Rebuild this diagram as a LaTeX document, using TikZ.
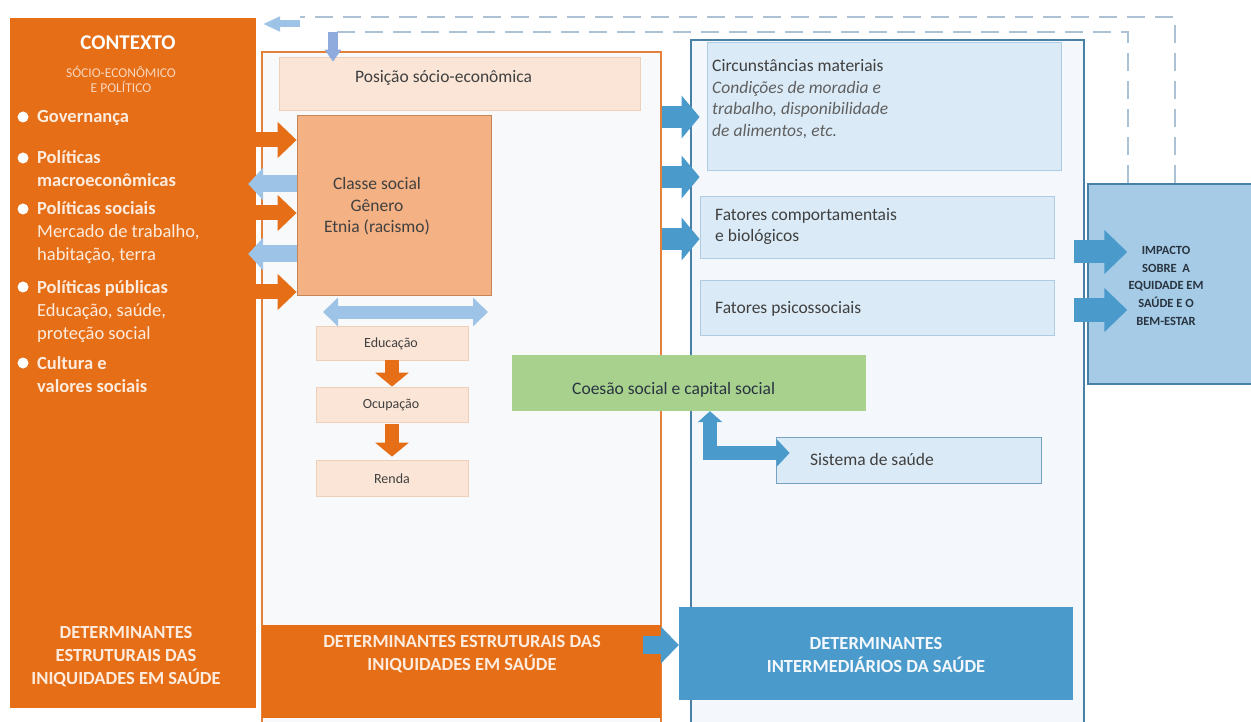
\documentclass[tikz,border=0pt]{standalone}
\usepackage{fontspec}
\setmainfont{Carlito}
\usepackage{xcolor}
\definecolor{orange-600}{RGB}{229,110,23}
\definecolor{orange-500}{RGB}{226,128,60}
\definecolor{peach-100}{RGB}{251,229,214}
\definecolor{peach-200}{RGB}{238,208,186}
\definecolor{peach-300}{RGB}{244,177,131}
\definecolor{brown-400}{RGB}{196,134,88}
\definecolor{cream-50}{RGB}{253,236,222}
\definecolor{cream-200}{RGB}{250,214,188}
\definecolor{gray-50}{RGB}{248,249,250}
\definecolor{gray-700}{RGB}{64,64,64}
\definecolor{gray-600}{RGB}{96,96,96}
\definecolor{blue-50}{RGB}{244,248,252}
\definecolor{blue-100}{RGB}{218,234,246}
\definecolor{blue-200}{RGB}{176,204,226}
\definecolor{blue-300}{RGB}{157,195,230}
\definecolor{blue-350}{RGB}{166,203,230}
\definecolor{blue-400}{RGB}{120,162,194}
\definecolor{blue-500}{RGB}{74,155,204}
\definecolor{blue-700}{RGB}{72,128,166}
\definecolor{blue-900}{RGB}{40,52,64}
\definecolor{indigo-300}{RGB}{143,170,220}
\definecolor{green-300}{RGB}{169,209,142}
\definecolor{dash-300}{RGB}{172,194,212}
\usepackage{tikz}
\usetikzlibrary{arrows.meta,calc}

\newcommand{\fsbody}{\fontsize{17.5}{21.5}\selectfont}
\newcommand{\fsctx}{\fontsize{18.5}{23}\selectfont}
\newcommand{\fshead}{\fontsize{21}{25}\selectfont}
\newcommand{\fstiny}{\fontsize{13.5}{15}\selectfont}
\newcommand{\fssmall}{\fontsize{14}{17}\selectfont}
\newcommand{\fsimpact}{\fontsize{12.5}{18}\selectfont}

\begin{document}
\begin{tikzpicture}[
    x=1pt, y=-1pt,
    every node/.style={inner sep=0pt},
    orgarrow/.style={draw=orange-600, line width=15pt, -{Triangle[length=19pt,width=35pt]}},
    dwnarrow/.style={draw=orange-600, line width=14pt, -{Triangle[length=14pt,width=33pt]}},
    ltarrow/.style={draw=blue-300, line width=17pt, -{Triangle[length=15pt,width=32pt]}},
    bluarrow/.style={draw=blue-500, line width=22pt, -{Triangle[length=18pt,width=42pt]}},
    fbline/.style={draw=dash-300, line width=2pt, dash pattern=on 18pt off 10pt}
]

% Canvas
\path[use as bounding box] (0,0) rectangle (1251,722);
\fill[white] (0,0) rectangle (1251,722);
\clip (0,0) rectangle (1251,722);

% Context column
\node[fill=orange-600, minimum width=246pt, minimum height=690pt] (ctx) at (133,363) {};

% Frames
\node[draw=orange-500, line width=2pt, fill=gray-50, minimum width=399pt, minimum height=688pt] (estr) at (461.5,396) {};
\node[draw=blue-700, line width=2pt, fill=blue-50, minimum width=393pt, minimum height=700pt] (intf) at (887.5,390) {};

% Structural boxes
\node[fill=peach-100, draw=peach-200, line width=0.8pt, minimum width=361pt, minimum height=53pt] (pos) at (459.5,83.5) {};
\node[fill=peach-300, draw=brown-400, line width=0.8pt, minimum width=194pt, minimum height=180pt] (classe) at (394,205) {};
\node[fill=peach-100, draw=peach-200, line width=0.8pt, minimum width=152pt, minimum height=34pt] (edu) at (392,343) {};
\node[fill=peach-100, draw=peach-200, line width=0.8pt, minimum width=152pt, minimum height=35pt] (ocup) at (392,404.5) {};
\node[fill=peach-100, draw=peach-200, line width=0.8pt, minimum width=152pt, minimum height=36pt] (renda) at (392,478) {};

% Intermediary boxes
\node[fill=blue-100, draw=blue-200, line width=0.8pt, minimum width=354pt, minimum height=128pt] (circ) at (884,106) {};
\node[fill=blue-100, draw=blue-200, line width=0.8pt, minimum width=354pt, minimum height=62pt] (comp) at (877,227) {};
\node[fill=blue-100, draw=blue-200, line width=0.8pt, minimum width=354pt, minimum height=55pt] (psic) at (877,307.5) {};
\node[fill=green-300, minimum width=354pt, minimum height=56pt] (coesao) at (689,383) {};
\node[fill=blue-100, draw=blue-400, line width=0.8pt, minimum width=265pt, minimum height=46pt] (sist) at (908.5,460) {};

% Impact and bottom labels
\node[fill=blue-350, draw=blue-700, line width=1.5pt, minimum width=172pt, minimum height=200pt] (impact) at (1174,284) {};
\node[fill=orange-600, minimum width=399pt, minimum height=93pt] (estrlab) at (461.5,671.5) {};
\node[fill=blue-500, minimum width=394pt, minimum height=93pt] (intlab) at (876,653.5) {};

% Feedback lines
\draw[fbline] (impact.north -| 1175,0) |- (300,17);
\draw[fbline] (impact.north -| 1128,0) |- (333,32);
\coordinate (fbtip) at (263,24);
\coordinate (fbdown) at (333,32);
\draw[draw=blue-300, line width=7pt, -{Triangle[length=17pt,width=14pt]}] (300,24) -- (fbtip);
\draw[draw=indigo-300, line width=10pt, -{Triangle[length=12pt,width=16pt]}] (fbdown) -- ($(pos.north -| fbdown)+(0,5)$);

% Context to social class
\draw[orgarrow] (ctx.east |- 0,140) -- (classe.west |- 0,140);
\draw[orgarrow] (ctx.east |- 0,213) -- (classe.west |- 0,213);
\draw[orgarrow] (ctx.east |- 0,292) -- (classe.west |- 0,292);
\draw[ltarrow] (classe.west |- 0,184) -- ($(ctx.east |- 0,184)+(-8,0)$);
\draw[ltarrow] (classe.west |- 0,254) -- ($(ctx.east |- 0,254)+(-8,0)$);

% Education, occupation, income
\coordinate (dblleft) at (323,312);
\coordinate (dblright) at (488,312);
\draw[draw=blue-300, line width=13pt, {Triangle[length=15pt,width=28pt]}-{Triangle[length=15pt,width=28pt]}] (dblleft) -- (dblright);
\draw[dwnarrow] (edu.south) -- (ocup.north);
\draw[dwnarrow] ($(ocup.south)+(0,2)$) -- ($(renda.north)+(0,-3)$);

% Structural to intermediary
\draw[bluarrow] (estr.east |- 0,117) -- (comp.west |- 0,117);
\draw[bluarrow] (estr.east |- 0,177) -- (comp.west |- 0,177);
\draw[bluarrow] (estr.east |- 0,239) -- (comp.west |- 0,239);
\draw[draw=blue-500, line width=14pt, {Triangle[length=11pt,width=24pt]}-{Triangle[length=13pt,width=27pt]}] (coesao.south -| 710,0) |- ($(sist.west |- 0,453)+(14,0)$);
\draw[draw=blue-500, line width=23pt, -{Triangle[length=23pt,width=43pt]}] ($(intf.east |- 0,252)+(-11,0)$) -- ($(impact.west |- 0,252)+(40,0)$);
\draw[draw=blue-500, line width=23pt, -{Triangle[length=23pt,width=43pt]}] ($(intf.east |- 0,310)+(-11,0)$) -- ($(impact.west |- 0,310)+(40,0)$);
\draw[draw=blue-500, line width=18pt, -{Triangle[length=18pt,width=36pt]}] ($(estrlab.east |- 0,645)+(-18,0)$) -- (intlab.west |- 0,645);

% Context texts
\node[font=\fshead\bfseries, text=white] (ctxtitle) at (128,43) {CONTEXTO};
\node[font=\fstiny, text=cream-200, align=center] (ctxsub) at (121,79) {SÓCIO-ECONÔMICO\\E POLÍTICO};
\fill[white] (23,117) circle (5.5);
\fill[white] (23,158) circle (5.5);
\fill[white] (23,209) circle (5.5);
\fill[white] (23,287) circle (5.5);
\fill[white] (23,363) circle (5.5);
\node[font=\fsctx, text=cream-50, anchor=base west, align=left] (gov) at (37,123) {\textbf{Governança}};
\node[font=\fsctx, text=cream-50, anchor=base west, align=left] (macro) at (37,187) {\textbf{Políticas}\\\textbf{macroeconômicas}};
\node[font=\fsctx, text=cream-50, anchor=base west, align=left] (soc) at (37,261) {\textbf{Políticas sociais}\\Mercado de trabalho,\\habitação, terra};
\node[font=\fsctx, text=cream-50, anchor=base west, align=left] (pub) at (37,339) {\textbf{Políticas públicas}\\Educação, saúde,\\proteção social};
\node[font=\fsctx, text=cream-50, anchor=base west, align=left] (cult) at (37,392) {\textbf{Cultura e}\\\textbf{valores sociais}};
\node[font=\fsctx\bfseries, text=cream-50, anchor=base, align=center] (ctxfoot) at (126,684) {DETERMINANTES\\ESTRUTURAIS DAS\\INIQUIDADES EM SAÚDE};

% Box texts
\node[font=\fsbody, text=gray-700, anchor=base west] (postext) at (355,83) {Posição sócio-econômica};
\node[font=\fsbody, text=gray-700, anchor=base, align=center] (classetext) at (377,233) {Classe social\\Gênero\\Etnia (racismo)};
\node[font=\fssmall, text=gray-700] (edutext) at (391,344) {Educação};
\node[font=\fssmall, text=gray-700] (ocuptext) at (391,405) {Ocupação};
\node[font=\fssmall, text=gray-700] (rendatext) at (392,479) {Renda};
\node[font=\fsbody, text=gray-700, anchor=base west, align=left] (circtext) at (712,136.5) {Circunstâncias materiais\\\textcolor{gray-600}{\itshape Condições de moradia e}\\\textcolor{gray-600}{\itshape trabalho, disponibilidade}\\\textcolor{gray-600}{\itshape de alimentos, etc.}};
\node[font=\fsbody, text=gray-700, anchor=base west, align=left] (comptext) at (715,242) {Fatores comportamentais\\e biológicos};
\node[font=\fsbody, text=gray-700, anchor=base west] (psictext) at (715,313) {Fatores psicossociais};
\node[font=\fsbody, text=blue-900, anchor=base west] (coesaotext) at (572,394) {Coesão social e capital social};
\node[font=\fsbody, text=gray-700, anchor=base west] (sisttext) at (810,465) {Sistema de saúde};
\node[font=\fsimpact\bfseries, text=blue-900, anchor=base, align=center] (impacttext) at (1166,326) {IMPACTO\\SOBRE\ \ A\\EQUIDADE EM\\SAÚDE E O\\BEM-ESTAR};
\node[font=\fsctx\bfseries, text=cream-50, anchor=base, align=center] (estrtext) at (462,670) {DETERMINANTES ESTRUTURAIS DAS\\INIQUIDADES EM SAÚDE};
\node[font=\fsctx\bfseries, text=blue-50, anchor=base, align=center] (inttext) at (876,672) {DETERMINANTES\\INTERMEDIÁRIOS DA SAÚDE};

\end{tikzpicture}
\end{document}
